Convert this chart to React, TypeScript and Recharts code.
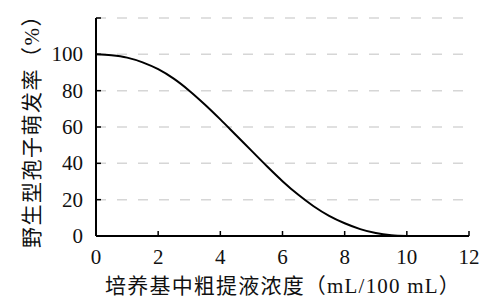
import { CartesianGrid, Line, LineChart, XAxis, YAxis } from "recharts";

// 培养基中粗提液浓度 (mL/100 mL)
const concentration = [0, 0.5, 1, 1.5, 2, 2.5, 3, 3.5, 4, 4.5, 5, 5.5, 6, 6.5, 7, 7.5, 8, 8.5, 9, 9.5, 10];
// 野生型孢子萌发率 (%)
const germination = [100, 99.5, 98.2, 95.6, 91.8, 86.6, 80.0, 72.4, 64.2, 55.6, 47.0, 38.4, 30.2, 22.8, 16.4, 11.1, 7.0, 3.8, 1.6, 0.4, 0];

const xTicks = [0, 2, 4, 6, 8, 10, 12];
const yTicks = [0, 20, 40, 60, 80, 100, 120];
const yLabeled = [0, 20, 40, 60, 80, 100];

const xTitle = "培养基中粗提液浓度（mL/100 mL）";
const yTitle = "野生型孢子萌发率（%）";

const data = concentration.map((c, i) => ({ c, rate: germination[i] }));

const FONT = "'Liberation Serif', 'Noto Sans CJK SC', serif";

function XTick(props: any) {
  const { x, y, payload } = props;
  return (
    <g>
      <line x1={x} y1={y} x2={x} y2={y - 5} stroke="#000" strokeWidth={1.5} />
      <text x={x} y={y + 21} textAnchor="middle" dominantBaseline="central" style={{ fontSize: 21, fontFamily: FONT }} fill="#111">
        {payload.value}
      </text>
    </g>
  );
}

function YTick(props: any) {
  const { x, y, payload } = props;
  return (
    <g>
      <line x1={x} y1={y} x2={x + 5} y2={y} stroke="#000" strokeWidth={1.5} />
      {yLabeled.includes(payload.value) && (
        <text x={x - 13} y={y} textAnchor="end" dominantBaseline="central" style={{ fontSize: 21, fontFamily: FONT }} fill="#111">
          {payload.value}
        </text>
      )}
    </g>
  );
}

export default function App() {
  return (
    <div style={{ position: "absolute", left: 0, top: 0, width: 491, height: 307, background: "#fff" }}>
      <LineChart width={491} height={307} data={data} margin={{ top: 18, right: 22, bottom: 0, left: 0 }}>
        <CartesianGrid vertical={false} stroke="#d6d6d6" strokeWidth={1.5} strokeDasharray="10 11" />
        <XAxis
          dataKey="c"
          type="number"
          domain={[0, 12]}
          ticks={xTicks}
          height={71}
          tickSize={0}
          tickMargin={0}
          tickLine={false}
          axisLine={{ stroke: "#000", strokeWidth: 2 }}
          tick={<XTick />}
          interval={0}
          label={{
            value: xTitle,
            content: () => (
              <text
                x={283}
                y={286}
                textAnchor="middle"
                dominantBaseline="central"
                style={{ fontSize: 21, fontFamily: FONT, letterSpacing: 1.2 }}
                fill="#111"
              >
                {xTitle}
              </text>
            ),
          }}
        />
        <YAxis
          type="number"
          domain={[0, 120]}
          ticks={yTicks}
          width={96}
          tickSize={0}
          tickMargin={0}
          tickLine={false}
          axisLine={{ stroke: "#000", strokeWidth: 2 }}
          tick={<YTick />}
          interval={0}
          label={{
            value: yTitle,
            content: () => (
              <text
                x={31.5}
                y={126}
                transform="rotate(-90 31.5 126)"
                textAnchor="middle"
                dominantBaseline="central"
                style={{ fontSize: 21, fontFamily: FONT, letterSpacing: 1.5 }}
                fill="#111"
              >
                {yTitle}
              </text>
            ),
          }}
        />
        <Line type="monotone" dataKey="rate" stroke="#000" strokeWidth={2} dot={false} isAnimationActive={false} />
      </LineChart>
    </div>
  );
}
